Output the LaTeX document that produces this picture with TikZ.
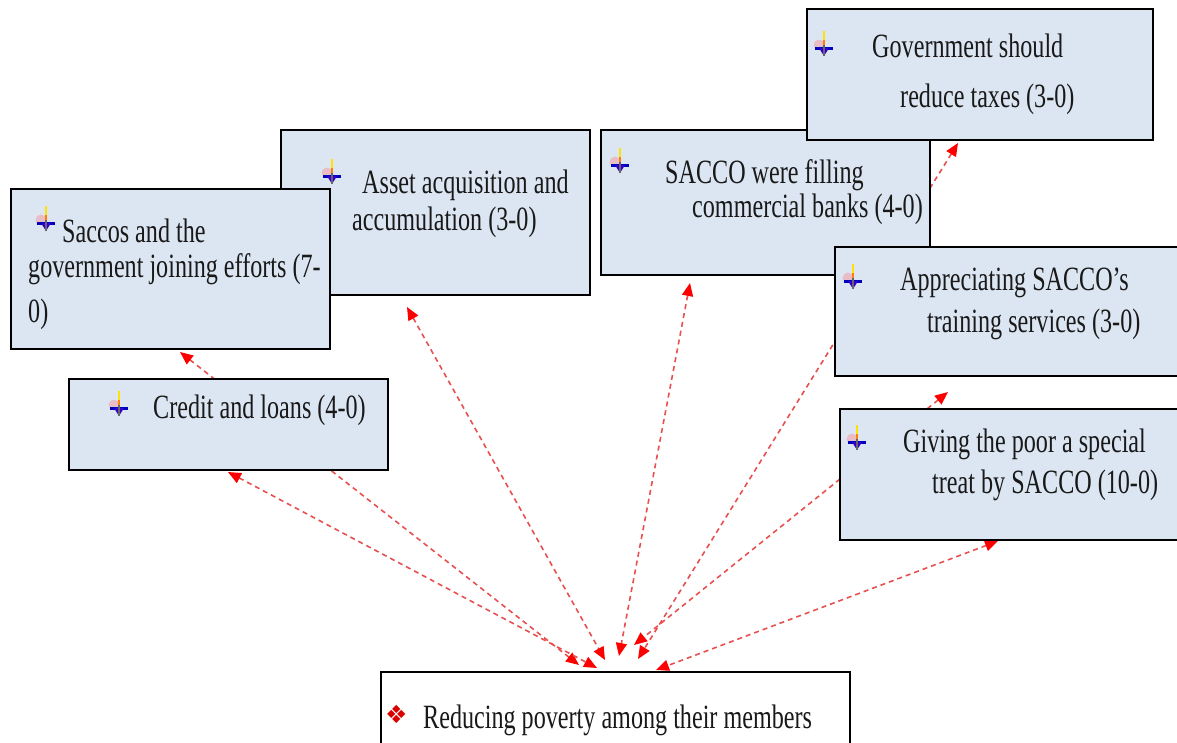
\documentclass[tikz,border=0pt]{standalone}
\usepackage{fontspec}
\setmainfont{Liberation Serif}[FakeStretch=0.71]
\newfontfamily\symfont{DejaVu Sans}
\usetikzlibrary{arrows.meta}
\definecolor{boxfill}{RGB}{220,230,242}
\definecolor{linkred}{RGB}{232,80,80}
\begin{document}
\begin{tikzpicture}[x=1pt,y=-1pt,
  box/.style={draw=black, line width=2.5pt, fill=boxfill, rectangle, anchor=north west, inner sep=0pt, outer sep=0pt},
  txt/.style={anchor=base west, inner sep=0pt, font=\fontsize{34}{40}\selectfont, text=black!90},
  link/.style={draw=linkred, line width=1.6pt, dash pattern=on 5pt off 4pt,
    {Triangle[length=13pt,width=11pt,red]}-{Triangle[length=13pt,width=11pt,red]}},
  bul/.pic={
    \fill[pink!60!red, opacity=0.35] (-5,14) circle (5.5);
    \fill[yellow!85!orange] (-1.4,0) rectangle (1.4,9);
    \fill[orange] (-1.4,9) rectangle (1.4,15);
    \fill[blue!75!black] (-9,15.5) rectangle (9,18.5);
    \fill[blue!60!violet] (-5,17) -- (5,17) -- (0,25) -- cycle;
    \fill[black!60] (-0.9,14) rectangle (0.9,25);
  }]
\useasboundingbox (0,0) rectangle (1177,742);
\clip (0,0) rectangle (1177,742);

% end points of the connectors
\coordinate (pSac) at (180,352);
\coordinate (pCre) at (228,472);
\coordinate (pAss) at (407,307);
\coordinate (pFil) at (690,283);
\coordinate (pGov) at (958,143);
\coordinate (pApp) at (948,392);
\coordinate (pGiv) at (998,541);
\coordinate (qSac) at (579,665);
\coordinate (qCre) at (597,668);
\coordinate (qAss) at (605,660);
\coordinate (qFil) at (619,656);
\coordinate (qGov) at (638,659);
\coordinate (qApp) at (634,645);
\coordinate (qGiv) at (656,670);

\draw[link] (pSac) -- (qSac);
\draw[link] (pCre) -- (qCre);
\draw[link] (pAss) -- (qAss);
\draw[link] (pFil) -- (qFil);
\draw[link] (pGov) -- (qGov);
\draw[link] (pApp) -- (qApp);
\draw[link] (pGiv) -- (qGiv);

% boxes
\node[box, minimum width=309, minimum height=165] (asset) at (281,130) {};
\node[box, minimum width=319, minimum height=160] (saccos) at (11,189) {};
\node[box, minimum width=319, minimum height=91] (credit) at (69,379) {};
\node[box, minimum width=329, minimum height=145] (filling) at (601,130) {};
\node[box, minimum width=346, minimum height=131] (gov) at (807,9) {};
\node[box, minimum width=360, minimum height=129] (apprec) at (835,247) {};
\node[box, minimum width=360, minimum height=131] (giving) at (840,409) {};
\node[box, fill=white, minimum width=469, minimum height=100] (goal) at (381,672) {};

% texts
\pic at (824,31) {bul};
\node[txt] (gov1) at (872,57) {Government should};
\node[txt] (gov2) at (900,107) {reduce taxes (3-0)};

\pic at (332,159) {bul};
\node[txt] (ass1) at (362,193) {Asset acquisition and};
\node[txt] (ass2) at (352,230) {accumulation (3-0)};

\pic at (620,148) {bul};
\node[txt] (fil1) at (665,183) {SACCO were filling};
\node[txt] (fil2) at (692,217) {commercial banks (4-0)};

\pic at (46,206) {bul};
\node[txt] (sac1) at (62,242) {Saccos and the};
\node[txt] (sac2) at (28,277) {government joining efforts (7-};
\node[txt] (sac3) at (28,322) {0)};

\pic at (119,391) {bul};
\node[txt] (cre1) at (153,418) {Credit and loans (4-0)};

\pic at (853,264) {bul};
\node[txt] (app1) at (900,290) {Appreciating SACCO’s};
\node[txt] (app2) at (927,332) {training services (3-0)};

\pic at (857,425) {bul};
\node[txt] (giv1) at (903,452) {Giving the poor a special};
\node[txt] (giv2) at (932,493) {treat by SACCO (10-0)};

\node[anchor=base west, inner sep=0pt, text=red!85!black, font=\symfont\fontsize{25}{25}\selectfont] (goalbul) at (385,723) {❖};
\node[txt] (goal1) at (423,728) {Reducing poverty among their members};
\end{tikzpicture}
\end{document}
